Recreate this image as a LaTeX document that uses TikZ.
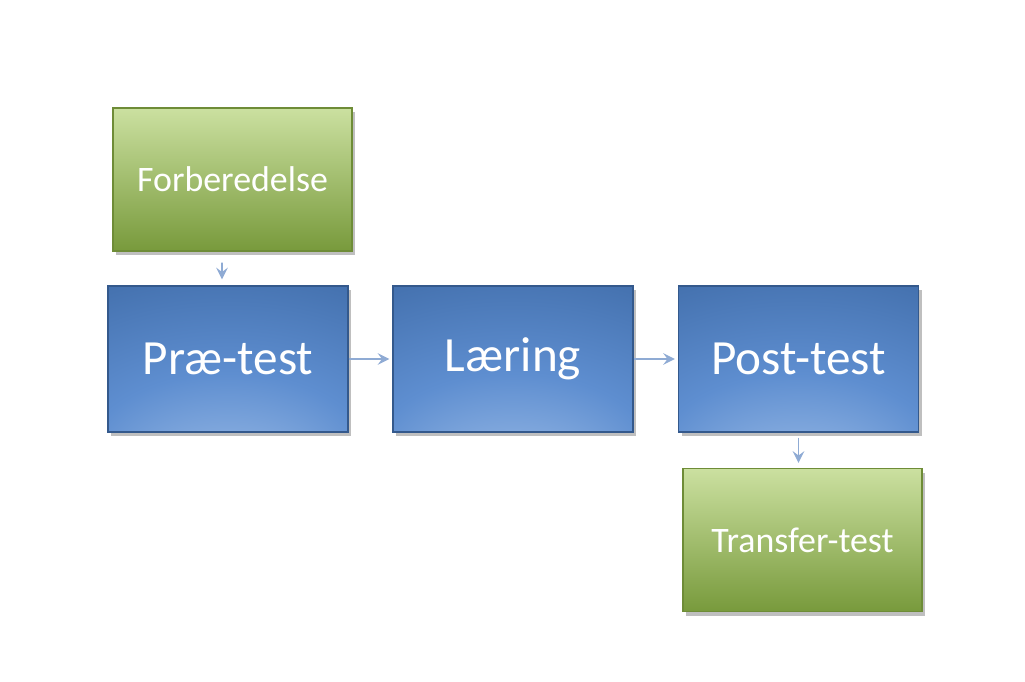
\documentclass[tikz,border=0pt]{standalone}
\usepackage{fontspec}
\setmainfont{Carlito}
\usetikzlibrary{shadows}
\definecolor{bluelight}{HTML}{A9C6EC}
\definecolor{bluemid}{HTML}{5E8ED0}
\definecolor{bluedark}{HTML}{3C68A4}
\definecolor{blueedge}{HTML}{34598C}
\definecolor{greentop}{HTML}{CBE0A0}
\definecolor{greenbot}{HTML}{789A3C}
\definecolor{greenedge}{HTML}{6E8C37}
\definecolor{arrowblue}{HTML}{8FABD4}
\pgfdeclareradialshading{boxglow}{\pgfpoint{0bp}{-50bp}}{%
  color(0bp)=(bluelight); color(30bp)=(bluemid); color(62bp)=(bluedark); color(100bp)=(bluedark)}
\begin{document}
\begin{tikzpicture}[
    stage/.style={rectangle,draw=blueedge,line width=0.4pt,shading=boxglow,
      minimum width=2.40cm,minimum height=1.46cm,inner sep=0pt,text=white,
      font=\fontsize{14}{16}\selectfont,
      drop shadow={shadow xshift=0.3mm,shadow yshift=-0.4mm,fill=black,opacity=0.25}},
    extra/.style={rectangle,draw=greenedge,line width=0.4pt,top color=greentop,bottom color=greenbot,
      minimum width=2.39cm,minimum height=1.43cm,inner sep=0pt,text=white,
      font=\fontsize{10.2}{12}\selectfont,
      drop shadow={shadow xshift=0.3mm,shadow yshift=-0.4mm,fill=black,opacity=0.25}},
    flow/.style={-stealth,draw=arrowblue,line width=0.45pt}
]
\useasboundingbox (0,0) rectangle (10.25,6.81);
\node[extra] (forb)  at (2.325,5.015) {Forberedelse};
\node[stage] (pre)   at (2.28,3.22)   {Præ-test};
\node[stage] (laer)  at (5.13,3.22)   {Læring};
\node[stage] (post)  at (7.985,3.22)  {Post-test};
\node[extra] (trans) at (8.025,1.41)  {Transfer-test};

\draw[flow,shorten >=0.6mm,shorten <=1.1mm] ([xshift=-1.05mm]forb.south) -- ([xshift=-0.6mm]pre.north);
\draw[flow,shorten >=0.3mm] (pre) -- (laer);
\draw[flow,shorten >=0.3mm] (laer) -- (post);
\draw[flow,shorten >=0.5mm,shorten <=0.5mm] (post.south) -- (post.south |- trans.north);
\end{tikzpicture}
\end{document}
